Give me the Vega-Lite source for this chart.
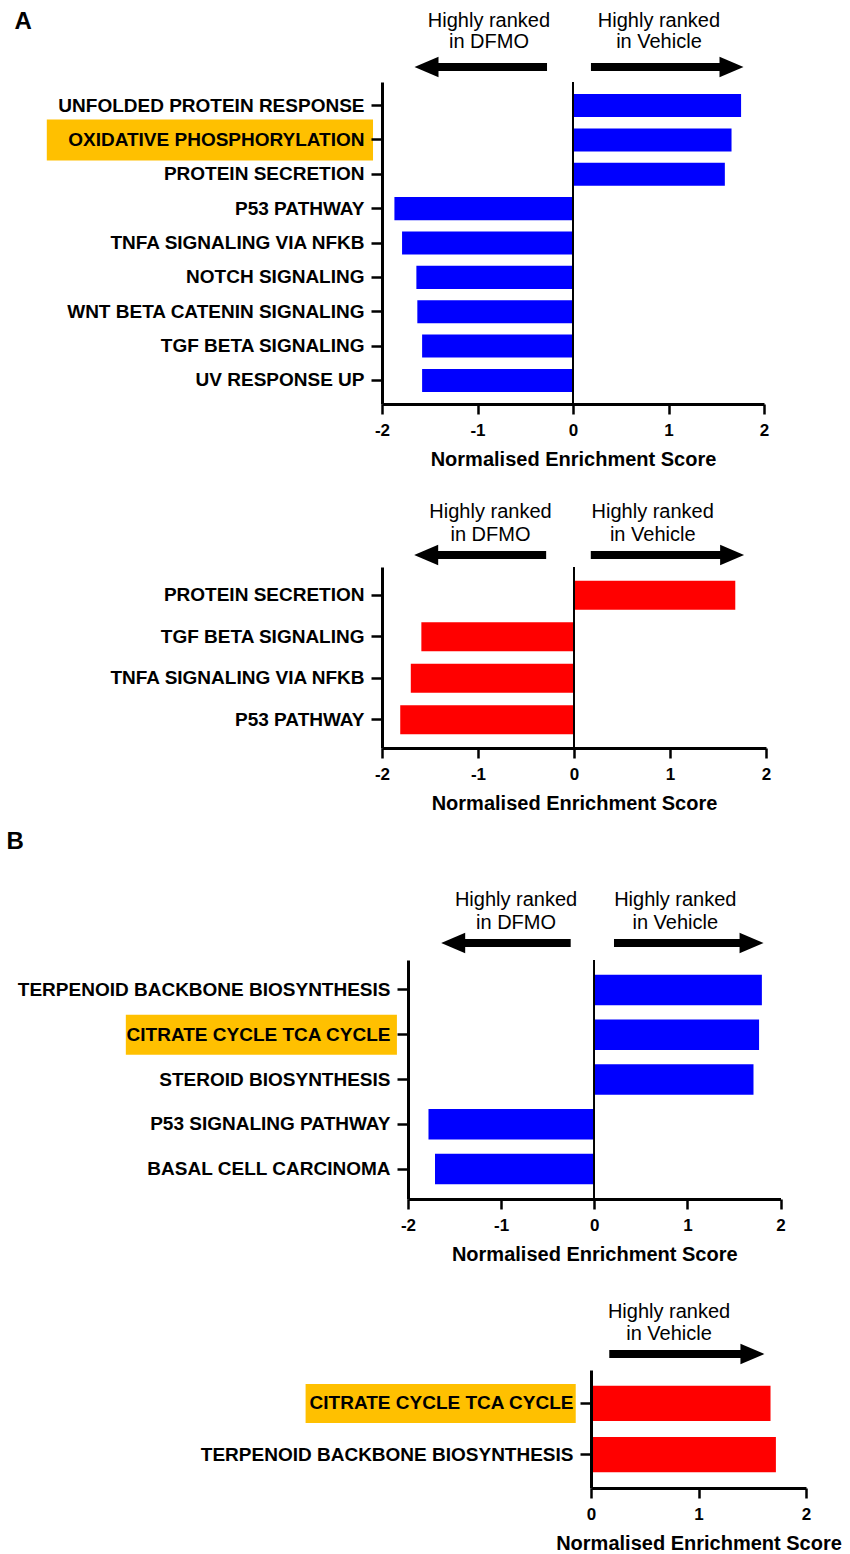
{
  "$schema": "https://vega.github.io/schema/vega-lite/v6.json",
  "padding": 0,
  "autosize": {"type": "pad"},
  "bounds": "flush",
  "spacing": 0,
  "config": {
    "view": {"stroke": null},
    "font": "Liberation Sans",
    "axis": {"grid": false, "domainColor": "#000", "tickColor": "#000", "labelColor": "#000", "titleColor": "#000", "labelFont": "Liberation Sans", "titleFont": "Liberation Sans"},
    "axisY": {"domainWidth": 3, "tickWidth": 2.5, "tickSize": 11, "labelPadding": 7, "labelFontSize": 19, "labelFontWeight": "bold", "labelLimit": 0},
    "axisX": {"domainWidth": 3, "tickWidth": 2.5, "tickSize": 10, "labelPadding": 8, "labelFontSize": 17, "labelFontWeight": "bold", "labelFlush": false, "titleFontSize": 20, "titleFontWeight": "bold", "titlePadding": 11},
    "text": {"font": "Liberation Sans", "fontSize": 20, "color": "#000"}
  },
  "vconcat": [
    {
      "width": 850, "height": 82,
      "data": {"values": [{"side": "DFMO", "label": "Highly ranked\nin DFMO"}, {"side": "Vehicle", "label": "Highly ranked\nin Vehicle"}]},
      "layer": [
        {"transform": [{"filter": "datum.side === 'DFMO'"}],
         "mark": {"type": "text", "baseline": "alphabetic", "lineBreak": "\n", "lineHeight": 21},
         "encoding": {"x": {"datum": -0.88, "type": "quantitative", "scale": {"domain": [-2, 2], "range": [382, 764], "nice": false, "zero": false}, "axis": null},
                      "y": {"datum": "text", "type": "nominal", "scale": {"type": "point", "domain": ["text", "arrow"], "padding": 0.525, "align": 0.643}, "axis": null},
                      "text": {"field": "label"}}},
        {"transform": [{"filter": "datum.side === 'Vehicle'"}],
         "mark": {"type": "text", "baseline": "alphabetic", "lineBreak": "\n", "lineHeight": 21},
         "encoding": {"x": {"datum": 0.90, "type": "quantitative"}, "y": {"datum": "text", "type": "nominal"}, "text": {"field": "label"}}},
        {"transform": [{"filter": "datum.side === 'DFMO'"}],
         "mark": {"type": "rule", "strokeWidth": 8, "color": "#000"},
         "encoding": {"x": {"datum": -1.534, "type": "quantitative"}, "x2": {"datum": -0.272}, "y": {"datum": "arrow", "type": "nominal"}}},
        {"transform": [{"filter": "datum.side === 'DFMO'"}],
         "mark": {"type": "point", "shape": "M1,-0.85L-1,0L1,0.85Z", "filled": true, "color": "#000", "opacity": 1, "size": 576},
         "encoding": {"x": {"datum": -1.534, "type": "quantitative"}, "y": {"datum": "arrow", "type": "nominal"}}},
        {"transform": [{"filter": "datum.side === 'Vehicle'"}],
         "mark": {"type": "rule", "strokeWidth": 8, "color": "#000"},
         "encoding": {"x": {"datum": 0.188, "type": "quantitative"}, "x2": {"datum": 1.66}, "y": {"datum": "arrow", "type": "nominal"}}},
        {"transform": [{"filter": "datum.side === 'Vehicle'"}],
         "mark": {"type": "point", "shape": "M-1,-0.85L1,0L-1,0.85Z", "filled": true, "color": "#000", "opacity": 1, "size": 576},
         "encoding": {"x": {"datum": 1.66, "type": "quantitative"}, "y": {"datum": "arrow", "type": "nominal"}}}
      ]
    },
    {
      "width": 850, "height": 322,
      "data": {"values": [
        {"pathway": "UNFOLDED PROTEIN RESPONSE", "nes": 1.76, "highlight": false},
        {"pathway": "OXIDATIVE PHOSPHORYLATION", "nes": 1.66, "highlight": true},
        {"pathway": "PROTEIN SECRETION", "nes": 1.59, "highlight": false},
        {"pathway": "P53 PATHWAY", "nes": -1.87, "highlight": false},
        {"pathway": "TNFA SIGNALING VIA NFKB", "nes": -1.79, "highlight": false},
        {"pathway": "NOTCH SIGNALING", "nes": -1.64, "highlight": false},
        {"pathway": "WNT BETA CATENIN SIGNALING", "nes": -1.63, "highlight": false},
        {"pathway": "TGF BETA SIGNALING", "nes": -1.58, "highlight": false},
        {"pathway": "UV RESPONSE UP", "nes": -1.58, "highlight": false}
      ]},
      "layer": [
        {"transform": [{"filter": "datum.highlight"}],
         "mark": {"type": "bar", "color": "#ffc000", "height": 41},
         "encoding": {
           "x": {"datum": -5.51, "type": "quantitative", "title": "Normalised Enrichment Score", "scale": {"domain": [-2, 2], "range": [382, 764], "nice": false, "zero": false}},
           "x2": {"datum": -2.094},
           "y": {"field": "pathway", "type": "nominal", "sort": null,
                 "scale": {"domain": ["UNFOLDED PROTEIN RESPONSE", "OXIDATIVE PHOSPHORYLATION", "PROTEIN SECRETION", "P53 PATHWAY", "TNFA SIGNALING VIA NFKB", "NOTCH SIGNALING", "WNT BETA CATENIN SIGNALING", "TGF BETA SIGNALING", "UV RESPONSE UP"], "paddingInner": 0.33, "paddingOuter": 0.35},
                 "axis": {"title": "A", "zindex": 2, "offset": -382, "titleAngle": 0, "titleAlign": "left", "titleBaseline": "alphabetic", "titleX": -368, "titleY": -54, "titleFontSize": 24, "titleFontWeight": "bold"}}
         }},
        {"mark": {"type": "bar", "color": "#0000ff"},
         "encoding": {
           "x": {"field": "nes", "type": "quantitative", "title": "Normalised Enrichment Score", "axis": {"values": [-2, -1, 0, 1, 2], "labelExpr": "'' + datum.value"}},
           "y": {"field": "pathway", "type": "nominal", "sort": null}
         }},
        {"mark": {"type": "rule", "strokeWidth": 1.5, "color": "#000"},
         "encoding": {"x": {"datum": 0, "type": "quantitative", "title": "Normalised Enrichment Score"}}}
      ]
    },
    {
      "width": 850, "height": 163,
      "data": {"values": [{"side": "DFMO", "label": "Highly ranked\nin DFMO"}, {"side": "Vehicle", "label": "Highly ranked\nin Vehicle"}]},
      "layer": [
        {"transform": [{"filter": "datum.side === 'DFMO'"}],
         "mark": {"type": "text", "baseline": "alphabetic", "lineBreak": "\n", "lineHeight": 23},
         "encoding": {"x": {"datum": -0.87, "type": "quantitative", "scale": {"domain": [-2, 2], "range": [382, 766], "nice": false, "zero": false}, "axis": null},
                      "y": {"datum": "text", "type": "nominal", "scale": {"type": "point", "domain": ["space1", "space2", "text", "arrow"], "padding": 0.703, "align": 0.769}, "axis": null},
                      "text": {"field": "label"}}},
        {"transform": [{"filter": "datum.side === 'Vehicle'"}],
         "mark": {"type": "text", "baseline": "alphabetic", "lineBreak": "\n", "lineHeight": 23},
         "encoding": {"x": {"datum": 0.82, "type": "quantitative"}, "y": {"datum": "text", "type": "nominal"}, "text": {"field": "label"}}},
        {"transform": [{"filter": "datum.side === 'DFMO'"}],
         "mark": {"type": "rule", "strokeWidth": 8, "color": "#000"},
         "encoding": {"x": {"datum": -1.54, "type": "quantitative"}, "x2": {"datum": -0.29}, "y": {"datum": "arrow", "type": "nominal"}}},
        {"transform": [{"filter": "datum.side === 'DFMO'"}],
         "mark": {"type": "point", "shape": "M1,-0.85L-1,0L1,0.85Z", "filled": true, "color": "#000", "opacity": 1, "size": 576},
         "encoding": {"x": {"datum": -1.54, "type": "quantitative"}, "y": {"datum": "arrow", "type": "nominal"}}},
        {"transform": [{"filter": "datum.side === 'Vehicle'"}],
         "mark": {"type": "rule", "strokeWidth": 8, "color": "#000"},
         "encoding": {"x": {"datum": 0.175, "type": "quantitative"}, "x2": {"datum": 1.647}, "y": {"datum": "arrow", "type": "nominal"}}},
        {"transform": [{"filter": "datum.side === 'Vehicle'"}],
         "mark": {"type": "point", "shape": "M-1,-0.85L1,0L-1,0.85Z", "filled": true, "color": "#000", "opacity": 1, "size": 576},
         "encoding": {"x": {"datum": 1.647, "type": "quantitative"}, "y": {"datum": "arrow", "type": "nominal"}}}
      ]
    },
    {
      "width": 850, "height": 181,
      "data": {"values": [
        {"pathway": "PROTEIN SECRETION", "nes": 1.68},
        {"pathway": "TGF BETA SIGNALING", "nes": -1.59},
        {"pathway": "TNFA SIGNALING VIA NFKB", "nes": -1.70},
        {"pathway": "P53 PATHWAY", "nes": -1.81}
      ]},
      "layer": [
        {"mark": {"type": "bar", "color": "#ff0000"},
         "encoding": {
           "x": {"field": "nes", "type": "quantitative", "title": "Normalised Enrichment Score", "scale": {"domain": [-2, 2], "range": [382, 766], "nice": false, "zero": false}, "axis": {"values": [-2, -1, 0, 1, 2], "labelExpr": "'' + datum.value"}},
           "y": {"field": "pathway", "type": "nominal", "sort": null, "scale": {"paddingInner": 0.3, "paddingOuter": 0.33}, "axis": {"title": null, "offset": -382, "zindex": 2}}
         }},
        {"mark": {"type": "rule", "strokeWidth": 1.5, "color": "#000"},
         "encoding": {"x": {"datum": 0, "type": "quantitative", "title": "Normalised Enrichment Score"}}}
      ]
    },
    {
      "width": 850, "height": 212,
      "data": {"values": [{"side": "DFMO", "label": "Highly ranked\nin DFMO"}, {"side": "Vehicle", "label": "Highly ranked\nin Vehicle"}]},
      "layer": [
        {"transform": [{"filter": "datum.side === 'DFMO'"}],
         "mark": {"type": "text", "baseline": "alphabetic", "lineBreak": "\n", "lineHeight": 23},
         "encoding": {"x": {"datum": -0.84, "type": "quantitative", "scale": {"domain": [-2, 2], "range": [408, 780.5], "nice": false, "zero": false}, "axis": null},
                      "y": {"datum": "text", "type": "nominal", "scale": {"type": "point", "domain": ["space1", "space2", "space3", "text", "arrow"], "padding": 0.865, "align": 0.734}, "axis": null},
                      "text": {"field": "label"}}},
        {"transform": [{"filter": "datum.side === 'Vehicle'"}],
         "mark": {"type": "text", "baseline": "alphabetic", "lineBreak": "\n", "lineHeight": 23},
         "encoding": {"x": {"datum": 0.87, "type": "quantitative"}, "y": {"datum": "text", "type": "nominal"}, "text": {"field": "label"}}},
        {"transform": [{"filter": "datum.side === 'DFMO'"}],
         "mark": {"type": "rule", "strokeWidth": 8, "color": "#000"},
         "encoding": {"x": {"datum": -1.515, "type": "quantitative"}, "x2": {"datum": -0.253}, "y": {"datum": "arrow", "type": "nominal"}}},
        {"transform": [{"filter": "datum.side === 'DFMO'"}],
         "mark": {"type": "point", "shape": "M1,-0.85L-1,0L1,0.85Z", "filled": true, "color": "#000", "opacity": 1, "size": 576},
         "encoding": {"x": {"datum": -1.515, "type": "quantitative"}, "y": {"datum": "arrow", "type": "nominal"}}},
        {"transform": [{"filter": "datum.side === 'Vehicle'"}],
         "mark": {"type": "rule", "strokeWidth": 8, "color": "#000"},
         "encoding": {"x": {"datum": 0.212, "type": "quantitative"}, "x2": {"datum": 1.689}, "y": {"datum": "arrow", "type": "nominal"}}},
        {"transform": [{"filter": "datum.side === 'Vehicle'"}],
         "mark": {"type": "point", "shape": "M-1,-0.85L1,0L-1,0.85Z", "filled": true, "color": "#000", "opacity": 1, "size": 576},
         "encoding": {"x": {"datum": 1.689, "type": "quantitative"}, "y": {"datum": "arrow", "type": "nominal"}}}
      ]
    },
    {
      "width": 850, "height": 239,
      "data": {"values": [
        {"pathway": "TERPENOID BACKBONE BIOSYNTHESIS", "nes": 1.80, "highlight": false},
        {"pathway": "CITRATE CYCLE TCA CYCLE", "nes": 1.77, "highlight": true},
        {"pathway": "STEROID BIOSYNTHESIS", "nes": 1.71, "highlight": false},
        {"pathway": "P53 SIGNALING PATHWAY", "nes": -1.78, "highlight": false},
        {"pathway": "BASAL CELL CARCINOMA", "nes": -1.71, "highlight": false}
      ]},
      "layer": [
        {"transform": [{"filter": "datum.highlight"}],
         "mark": {"type": "bar", "color": "#ffc000", "height": 40},
         "encoding": {
           "x": {"datum": -5.03, "type": "quantitative", "title": "Normalised Enrichment Score", "scale": {"domain": [-2, 2], "range": [408, 780.5], "nice": false, "zero": false}},
           "x2": {"datum": -2.119},
           "y": {"field": "pathway", "type": "nominal", "sort": null,
                 "scale": {"domain": ["TERPENOID BACKBONE BIOSYNTHESIS", "CITRATE CYCLE TCA CYCLE", "STEROID BIOSYNTHESIS", "P53 SIGNALING PATHWAY", "BASAL CELL CARCINOMA"], "paddingInner": 0.32, "paddingOuter": 0.33},
                 "axis": {"title": "B", "zindex": 2, "offset": -408, "titleAngle": 0, "titleAlign": "left", "titleBaseline": "alphabetic", "titleX": -402, "titleY": -112, "titleFontSize": 24, "titleFontWeight": "bold"}}
         }},
        {"mark": {"type": "bar", "color": "#0000ff"},
         "encoding": {
           "x": {"field": "nes", "type": "quantitative", "title": "Normalised Enrichment Score", "axis": {"values": [-2, -1, 0, 1, 2], "labelExpr": "'' + datum.value"}},
           "y": {"field": "pathway", "type": "nominal", "sort": null}
         }},
        {"mark": {"type": "rule", "strokeWidth": 1.5, "color": "#000"},
         "encoding": {"x": {"datum": 0, "type": "quantitative", "title": "Normalised Enrichment Score"}}}
      ]
    },
    {
      "width": 850, "height": 171,
      "data": {"values": [{"side": "Vehicle", "label": "Highly ranked\nin Vehicle"}]},
      "layer": [
        {"mark": {"type": "text", "baseline": "alphabetic", "lineBreak": "\n", "lineHeight": 22},
         "encoding": {"x": {"datum": 0.726, "type": "quantitative", "scale": {"domain": [0, 2], "range": [591, 806], "nice": false, "zero": false}, "axis": null},
                      "y": {"datum": "text", "type": "nominal", "scale": {"type": "point", "domain": ["space1", "space2", "text", "arrow"], "padding": 0.875, "align": 0.746}, "axis": null},
                      "text": {"field": "label"}}},
        {"mark": {"type": "rule", "strokeWidth": 8, "color": "#000"},
         "encoding": {"x": {"datum": 0.17, "type": "quantitative"}, "x2": {"datum": 1.502}, "y": {"datum": "arrow", "type": "nominal"}}},
        {"mark": {"type": "point", "shape": "M-1,-0.85L1,0L-1,0.85Z", "filled": true, "color": "#000", "opacity": 1, "size": 576},
         "encoding": {"x": {"datum": 1.502, "type": "quantitative"}, "y": {"datum": "arrow", "type": "nominal"}}}
      ]
    },
    {
      "width": 850, "height": 118,
      "data": {"values": [
        {"pathway": "CITRATE CYCLE TCA CYCLE", "nes": 1.67, "highlight": true},
        {"pathway": "TERPENOID BACKBONE BIOSYNTHESIS", "nes": 1.72, "highlight": false}
      ]},
      "layer": [
        {"transform": [{"filter": "datum.highlight"}],
         "mark": {"type": "bar", "color": "#ffc000", "height": 39},
         "encoding": {
           "x": {"datum": -2.655, "type": "quantitative", "title": "Normalised Enrichment Score", "scale": {"domain": [0, 2], "range": [591, 806], "nice": false, "zero": false}},
           "x2": {"datum": -0.142},
           "y": {"field": "pathway", "type": "nominal", "sort": null,
                 "scale": {"domain": ["CITRATE CYCLE TCA CYCLE", "TERPENOID BACKBONE BIOSYNTHESIS"], "paddingInner": 0.31, "paddingOuter": 0.31},
                 "axis": {"title": null, "zindex": 2, "offset": -591}}
         }},
        {"mark": {"type": "bar", "color": "#ff0000"},
         "encoding": {
           "x": {"field": "nes", "type": "quantitative", "title": "Normalised Enrichment Score", "axis": {"values": [0, 1, 2], "labelExpr": "'' + datum.value"}},
           "y": {"field": "pathway", "type": "nominal", "sort": null}
         }}
      ]
    }
  ]
}
